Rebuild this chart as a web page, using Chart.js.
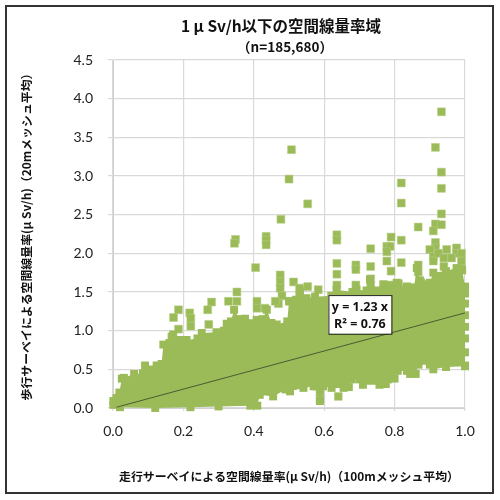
<!DOCTYPE html>
<html><head><meta charset="utf-8">
<style>html,body{margin:0;padding:0;background:#fff}#w{position:absolute;left:0;top:0;width:500px;height:500px}
#f{position:absolute;left:5px;top:5px;width:485px;height:485px;border:2px solid #333;pointer-events:none}</style>
<script src="https://cdn.jsdelivr.net/npm/chart.js@4"></script></head>
<body><div id="w"><canvas id="c" width="500" height="500"></canvas></div><div id="f"></div>
<script>
const titleLines=["1 μ Sv/h以下の空間線量率域","（n=185,680）"];
const xAxisTitle="走行サーベイによる空間線量率(μ Sv/h)（100mメッシュ平均）";
const yAxisTitle="歩行サーベイによる空間線量率(μ Sv/h)（20mメッシュ平均）";
const fitLabel=["y = 1.23 x","R² = 0.76"];
const fitLine=[[0.01,0.01],[1.0,1.23]];
const massUpper=[[0.001,0.09],[0.01,0.13],[0.018,0.2],[0.025,0.38],[0.031,0.39],[0.06,0.44],[0.085,0.45],[0.091,0.55],[0.124,0.55],[0.138,0.57],[0.143,0.82],[0.16,0.84],[0.171,0.95],[0.19,0.88],[0.209,0.88],[0.24,0.9],[0.252,0.97],[0.294,0.98],[0.315,1.0],[0.323,1.09],[0.335,1.12],[0.344,1.27],[0.36,1.15],[0.375,1.155],[0.408,1.14],[0.425,1.15],[0.437,1.27],[0.45,1.1],[0.465,1.08],[0.495,1.12],[0.5,1.38],[0.52,1.4],[0.531,1.51],[0.55,1.42],[0.574,1.44],[0.62,1.45],[0.635,1.53],[0.68,1.5],[0.692,1.53],[0.72,1.52],[0.73,1.66],[0.75,1.52],[0.768,1.6],[0.806,1.62],[0.834,1.55],[0.855,1.56],[0.863,1.81],[0.875,1.62],[0.882,1.6],[0.9,1.62],[0.91,1.75],[0.946,1.77],[0.976,1.81],[0.992,1.78],[1.0,1.57]];
const massLower=[[0.001,0.04],[0.02,0.01],[0.12,0.0],[0.22,0.01],[0.3,0.02],[0.39,0.03],[0.41,0.03],[0.417,0.17],[0.455,0.15],[0.49,0.24],[0.503,0.215],[0.541,0.26],[0.57,0.28],[0.58,0.28],[0.588,0.09],[0.597,0.28],[0.621,0.26],[0.655,0.26],[0.67,0.27],[0.678,0.37],[0.7,0.37],[0.71,0.3],[0.757,0.3],[0.775,0.31],[0.782,0.37],[0.8,0.38],[0.809,0.48],[0.835,0.48],[0.844,0.44],[0.86,0.44],[0.868,0.56],[0.9,0.56],[0.91,0.5],[0.946,0.53],[1.0,0.54]];
const rightEdgeX=[1.0,1.0,1.0,1.0,1.0,1.0,1.0,1.0];
const rightEdgeY=[0.55,0.72,0.9,1.05,1.2,1.35,1.48,1.56];
const outliers=[[0.933,3.83],[0.916,3.37],[0.933,3.05],[0.933,2.84],[0.933,2.51],[0.916,2.38],[0.933,2.37],[0.91,2.29],[0.867,2.34],[0.819,2.91],[0.819,2.65],[0.819,2.17],[0.79,2.21],[0.507,3.34],[0.5,2.96],[0.553,2.64],[0.477,2.44],[0.348,2.18],[0.345,2.13],[0.435,2.22],[0.435,2.17],[0.435,2.11],[0.636,2.24],[0.636,2.17],[0.732,2.06],[0.778,2.09],[0.787,2.09],[0.778,2.02],[0.916,2.14],[0.916,2.07],[0.9,2.05],[0.91,1.96],[0.91,1.9],[0.925,2.0],[0.948,2.05],[0.976,2.07],[0.976,2.0],[0.99,2.0],[0.94,1.94],[0.962,1.94],[0.99,1.9],[0.94,1.83],[0.99,1.8],
[0.405,1.815],[0.636,1.87],[0.636,1.73],[0.636,1.59],[0.69,1.85],[0.69,1.79],[0.69,1.59],[0.732,1.83],[0.732,1.67],[0.732,1.59],[0.778,1.9],[0.79,1.77],[0.77,1.59],[0.787,1.59],[0.811,1.61],[0.819,1.88],[0.867,1.85],[0.867,1.76],[0.872,1.65],[0.835,1.57],[0.475,1.72],[0.475,1.63],[0.475,1.55],[0.48,1.45],[0.47,1.35],[0.513,1.63],[0.53,1.55],[0.53,1.46],[0.553,1.57],[0.583,1.53],[0.352,1.5],[0.328,1.38],[0.352,1.38],[0.28,1.37],[0.269,1.27],[0.186,1.27],[0.172,1.17],[0.218,1.23],[0.221,1.16],[0.221,1.06],[0.186,1.02],[0.167,0.92],[0.272,1.08],[0.409,1.38],[0.409,1.29],[0.432,1.29],[0.461,1.38],[0.503,1.38],[0.521,1.38],[0.64,0.15],[0.588,0.11],[0.588,0.2]];
const xTicks=[0,0.2,0.4,0.6,0.8,1.0];
const yStep=0.5,yMax=4.5;
const green="#9BBB59";
const pts=a=>a.map(p=>({x:p[0],y:p[1]}));
const boxPlugin={id:"box",afterDatasetsDraw(ch){
  const c=ch.ctx,xs=ch.scales.x,ys=ch.scales.y;
  const l=xs.getPixelForValue(0.612),r=xs.getPixelForValue(0.791),t=ys.getPixelForValue(1.46),b=ys.getPixelForValue(0.96);
  c.save();c.fillStyle="#fff";c.strokeStyle="#222";c.lineWidth=1;
  c.fillRect(l,t,r-l,b-t);c.strokeRect(l+.5,t+.5,r-l,b-t);
  c.fillStyle="#111";c.font="bold 12.5px 'Open Sans'";c.textAlign="center";c.textBaseline="middle";
  c.fillText(fitLabel[0],(l+r)/2,t+12);c.fillText(fitLabel[1],(l+r)/2,t+29);
  c.fillStyle="#111";
  c.font="bold 15.5px 'Noto Sans CJK JP'";c.fillText(titleLines[0],281,26);
  c.font="bold 13.5px 'Noto Sans CJK JP'";c.fillText(titleLines[1],285,47);
  c.restore();
}};
new Chart(document.getElementById("c"),{
  type:"scatter",
  data:{datasets:[
    {type:"line",data:pts(fitLine),borderColor:"#4c5a33",borderWidth:1,pointRadius:0,fill:false,order:0,clip:false},
    {data:pts(outliers),backgroundColor:green,borderColor:"#b6cf85",borderWidth:0.5,pointStyle:"rect",pointRadius:5.6,order:3,clip:false},
    {data:rightEdgeX.map((x,i)=>({x,y:rightEdgeY[i]})),backgroundColor:green,borderWidth:0,pointStyle:"rect",pointRadius:5.6,order:2,clip:false},
    {type:"line",data:pts(massUpper),backgroundColor:green,borderColor:green,borderWidth:0,tension:0,pointStyle:"rect",pointRadius:5.6,pointBackgroundColor:green,fill:"+1",order:1,clip:false},
    {type:"line",data:pts(massLower),backgroundColor:green,borderColor:green,borderWidth:0,tension:0,pointStyle:"rect",pointRadius:5.6,pointBackgroundColor:green,fill:false,order:1,clip:false}
  ]},
  options:{
    responsive:false,animation:false,
    layout:{padding:{left:0,right:35,top:60,bottom:0}},
    plugins:{legend:{display:false},tooltip:{enabled:false},title:{display:false}},
    scales:{
      x:{type:"linear",min:0,max:1,
        afterFit(s){s.height=92},
        afterBuildTicks(s){s.ticks=xTicks.map(v=>({value:v}))},
        grid:{color:"#d9d9d9",lineWidth:1.2,tickLength:3},border:{color:"#d0d0d0"},
        ticks:{color:"#222",font:{family:"Lato",size:14},padding:12,maxRotation:0,callback:v=>v.toFixed(1)},
        title:{display:true,text:xAxisTitle,color:"#111",font:{family:"'Noto Sans CJK JP'",size:11.9,weight:"bold"},padding:{bottom:16}}},
      y:{type:"linear",min:0,max:yMax,
        afterFit(s){s.width=113},
        grid:{color:"#d9d9d9",lineWidth:1.2,tickLength:5},border:{color:"#d0d0d0"},
        ticks:{stepSize:yStep,color:"#222",font:{family:"Lato",size:14},padding:15,callback:v=>v.toFixed(1)},
        title:{display:true,text:yAxisTitle,color:"#111",font:{family:"'Noto Sans CJK JP'",size:11.9,weight:"bold"},padding:{top:19}}}
    }
  },
  plugins:[boxPlugin]
});
</script></body></html>
